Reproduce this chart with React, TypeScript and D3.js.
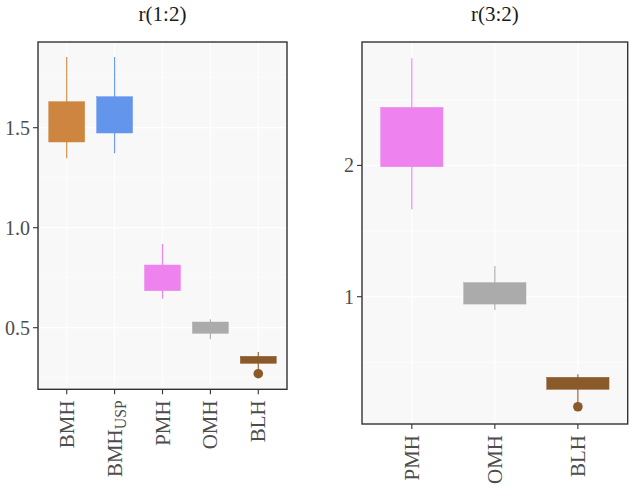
import React from "react";
import * as d3 from "d3";

// ---- Data ----
const leftCategories = ["BMH", "BMH_USP", "PMH", "OMH", "BLH"];
const leftColors = ["#CD853F", "#6495ED", "#EE82EE", "#ABABAB", "#8B5A2B"];
const leftLow = [1.347, 1.372, 0.645, 0.442, 0.29];
const leftQ1 = [1.4285, 1.4735, 0.685, 0.472, 0.322];
const leftQ3 = [1.63, 1.655, 0.8135, 0.5285, 0.357];
const leftHigh = [1.8535, 1.8535, 0.9185, 0.542, 0.3785];
const leftOutliers = [[], [], [], [], [0.27]];
const leftTicks = [0.5, 1.0, 1.5];
const leftMinor = [0.25, 0.75, 1.25, 1.75];

const rightCategories = ["PMH", "OMH", "BLH"];
const rightColors = ["#EE82EE", "#ABABAB", "#8B5A2B"];
const rightLow = [1.666, 0.899, 0.19];
const rightQ1 = [1.99, 0.944, 0.295];
const rightQ3 = [2.442, 1.107, 0.386];
const rightHigh = [2.816, 1.234, 0.409];
const rightOutliers = [[], [], [0.162]];
const rightTicks = [1, 2];
const rightMinor = [0.5, 1.5, 2.5];

const FONT = "'Liberation Serif', 'DejaVu Serif', serif";

type PanelProps = {
  title: string;
  x0: number; x1: number; y0: number; y1: number;
  domain: [number, number];
  cats: string[]; colors: string[];
  low: number[]; q1: number[]; q3: number[]; high: number[];
  outliers: number[][];
  ticks: number[]; minor: number[];
  fmt: (v: number) => string;
};

function CatLabel({ name }: { name: string }) {
  if (name.includes("_")) {
    const [a, b] = name.split("_");
    return (
      <>
        {a}
        <tspan baselineShift="-22%" fontSize="0.75em">{b}</tspan>
      </>
    );
  }
  return <>{name}</>;
}

function Panel(p: PanelProps) {
  const x = d3.scalePoint<string>().domain(p.cats).range([p.x0, p.x1]).padding(0.6);
  const y = d3.scaleLinear().domain(p.domain).range([p.y1, p.y0]);
  const step = x.step();
  const bw = step * 0.75;
  return (
    <g>
      <rect x={p.x0} y={p.y0} width={p.x1 - p.x0} height={p.y1 - p.y0} fill="#F8F8F8" />
      {p.minor.map((v) => (
        <line key={"mn" + v} x1={p.x0} x2={p.x1} y1={y(v)} y2={y(v)} stroke="#ffffff" strokeWidth={0.6} />
      ))}
      {p.ticks.map((v) => (
        <line key={"mj" + v} x1={p.x0} x2={p.x1} y1={y(v)} y2={y(v)} stroke="#ffffff" strokeWidth={1.2} />
      ))}
      {p.cats.map((c) => (
        <line key={"vg" + c} x1={x(c)!} x2={x(c)!} y1={p.y0} y2={p.y1} stroke="#ffffff" strokeWidth={1.2} />
      ))}
      {p.cats.map((c, i) => {
        const cx = x(c)!;
        return (
          <g key={"b" + c}>
            <line x1={cx} x2={cx} y1={y(p.high[i])} y2={y(p.low[i])} stroke={p.colors[i]} strokeWidth={1.1} />
            <rect x={cx - bw / 2} y={y(p.q3[i])} width={bw} height={y(p.q1[i]) - y(p.q3[i])} fill={p.colors[i]} stroke={p.colors[i]} strokeWidth={0.5} />
            {p.outliers[i].map((o, j) => (
              <circle key={j} cx={cx} cy={y(o)} r={4.8} fill={p.colors[i]} />
            ))}
          </g>
        );
      })}
      <rect x={p.x0} y={p.y0} width={p.x1 - p.x0} height={p.y1 - p.y0} fill="none" stroke="#333333" strokeWidth={1.4} />
      {p.ticks.map((v) => (
        <g key={"t" + v}>
          <line x1={p.x0 - 5} x2={p.x0} y1={y(v)} y2={y(v)} stroke="#333333" strokeWidth={1.1} />
          <text x={p.x0 - 8} y={y(v)} dy="0.35em" textAnchor="end" fontSize={20} fill="#4D4D4D" fontFamily={FONT}>
            {p.fmt(v)}
          </text>
        </g>
      ))}
      {p.cats.map((c) => (
        <g key={"xt" + c}>
          <line x1={x(c)!} x2={x(c)!} y1={p.y1} y2={p.y1 + 5} stroke="#333333" strokeWidth={1.1} />
          <text
            transform={`translate(${x(c)! + 7},${p.y1 + 11}) rotate(-90)`}
            textAnchor="end"
            fontSize={21}
            fill="#4D4D4D"
            fontFamily={FONT}
          >
            <CatLabel name={c} />
          </text>
        </g>
      ))}
      <text x={(p.x0 + p.x1) / 2} y={21} textAnchor="middle" fontSize={21} fill="#1a1a1a" fontFamily={FONT}>
        {p.title}
      </text>
    </g>
  );
}

export default function App() {
  return (
    <svg width={630} height={487} style={{ position: "absolute", left: 0, top: 0, background: "#ffffff" }}>
      <rect width={630} height={487} fill="#ffffff" />
      <Panel
        title="r(1:2)"
        x0={38} x1={287} y0={42} y1={389.3}
        domain={[0.192, 1.9285]}
        cats={leftCategories} colors={leftColors}
        low={leftLow} q1={leftQ1} q3={leftQ3} high={leftHigh}
        outliers={leftOutliers}
        ticks={leftTicks} minor={leftMinor}
        fmt={d3.format(".1f")}
      />
      <Panel
        title="r(3:2)"
        x0={362} x1={627.7} y0={42} y1={424}
        domain={[0.0305, 2.94]}
        cats={rightCategories} colors={rightColors}
        low={rightLow} q1={rightQ1} q3={rightQ3} high={rightHigh}
        outliers={rightOutliers}
        ticks={rightTicks} minor={rightMinor}
        fmt={d3.format("d")}
      />
    </svg>
  );
}
